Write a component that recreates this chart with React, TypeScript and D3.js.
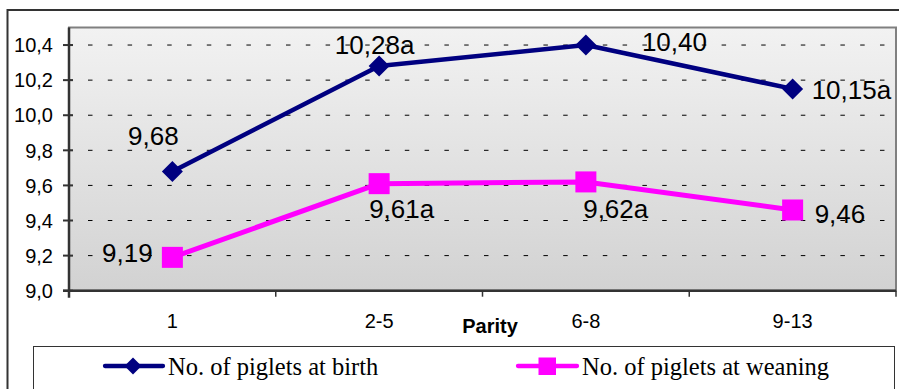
import React from "react";
import * as d3 from "d3";

const categories = ["1", "2-5", "6-8", "9-13"];
const birthValues = [9.68, 10.28, 10.4, 10.15];
const weaningValues = [9.19, 9.61, 9.62, 9.46];
const birthLabels = ["9,68", "10,28a", "10,40", "10,15a"];
const weaningLabels = ["9,19", "9,61a", "9,62a", "9,46"];
const yTicks = [9.0, 9.2, 9.4, 9.6, 9.8, 10.0, 10.2, 10.4];
const yTickLabels = ["9,0", "9,2", "9,4", "9,6", "9,8", "10,0", "10,2", "10,4"];
const seriesNames = ["No. of piglets at birth", "No. of piglets at weaning"];
const xTitle = "Parity";

// label placement (offsets from point, anchor)
const birthLabelPlace: [number, number, string][] = [
  [-19, -26.7, "middle"],
  [-4.5, -12, "middle"],
  [56, 5.7, "start"],
  [19, 10, "start"],
];
const weaningLabelPlace: [number, number, string][] = [
  [-19.7, 4.5, "end"],
  [-10, 34, "start"],
  [-2.7, 35.6, "start"],
  [22, 13.5, "start"],
];

const W = 899;
const H = 389;
const plot = { left: 69, right: 896, top: 27.5, bottom: 290.7 };
const SANS = "'Liberation Sans', Arial, sans-serif";
const SERIF = "'Liberation Serif', 'Times New Roman', serif";
const NAVY = "#000080";
const MAGENTA = "#ff00ff";

export default function App() {
  const x = d3
    .scaleBand<string>()
    .domain(categories)
    .range([plot.left, plot.right])
    .paddingInner(0)
    .paddingOuter(0);
  const y = d3.scaleLinear().domain([9.0, 10.5]).range([plot.bottom, plot.top]);
  const cx = (c: string) => (x(c) as number) + x.bandwidth() / 2;

  const line = d3
    .line<number>()
    .x((_, i) => cx(categories[i]))
    .y((v) => y(v));

  const diamond = (px: number, py: number, r: number) =>
    `M${px},${py - r}L${px + r},${py}L${px},${py + r}L${px - r},${py}Z`;

  const boundaries = categories.map((c) => x(c) as number).concat([plot.right]);

  return (
    <svg
      width={W}
      height={H}
      style={{ position: "absolute", left: 0, top: 0, background: "#fff" }}
    >
      <defs>
        <linearGradient id="bg" x1="0" y1="0" x2="0" y2="1">
          <stop offset="0" stopColor="#f2f2f2" />
          <stop offset="1" stopColor="#d2d2d2" />
        </linearGradient>
      </defs>
      {/* outer chart border */}
      <rect x={7.5} y={10} width={W + 20} height={H + 20} fill="#fff" stroke="#333" strokeWidth={2} />
      {/* plot background */}
      <rect
        x={plot.left}
        y={plot.top}
        width={plot.right - plot.left}
        height={plot.bottom - plot.top}
        fill="url(#bg)"
        stroke="#808080"
        strokeWidth={2}
      />
      {/* gridlines */}
      {yTicks.slice(1).map((t) => (
        <line
          key={"g" + t}
          x1={plot.left}
          x2={plot.right}
          y1={y(t)}
          y2={y(t)}
          stroke="#000"
          strokeWidth={1}
          strokeDasharray="4.5 15.3"
          strokeDashoffset={0.8}
        />
      ))}
      {/* axes */}
      <line x1={plot.left} x2={plot.left} y1={plot.top} y2={plot.bottom + 7} stroke="#333" strokeWidth={2.5} />
      <line x1={plot.left - 6} x2={plot.right} y1={plot.bottom} y2={plot.bottom} stroke="#333" strokeWidth={2.5} />
      {yTicks.map((t, i) => (
        <g key={"yt" + t}>
          <line x1={plot.left - 6} x2={plot.left + 4} y1={y(t)} y2={y(t)} stroke="#333" strokeWidth={2} />
          <text
            x={53}
            y={y(t)}
            dy="0.36em"
            textAnchor="end"
            fontFamily={SANS}
            fontSize={20}
            fill="#000"
          >
            {yTickLabels[i]}
          </text>
        </g>
      ))}
      {boundaries.map((b, i) => (
        <line key={"xt" + i} x1={b} x2={b} y1={plot.bottom} y2={plot.bottom + 6} stroke="#333" strokeWidth={1.5} />
      ))}
      {categories.map((c) => (
        <text key={"xl" + c} x={cx(c)} y={328} textAnchor="middle" fontFamily={SANS} fontSize={20} fill="#000">
          {c}
        </text>
      ))}
      <text x={490} y={333} textAnchor="middle" fontFamily={SANS} fontSize={20} fontWeight="bold" fill="#000">
        {xTitle}
      </text>

      {/* series */}
      <path d={line(birthValues) as string} fill="none" stroke={NAVY} strokeWidth={4.5} strokeLinejoin="round" />
      {birthValues.map((v, i) => (
        <path key={"bm" + i} d={diamond(cx(categories[i]), y(v), 10.5)} fill={NAVY} />
      ))}
      <path d={line(weaningValues) as string} fill="none" stroke={MAGENTA} strokeWidth={5} strokeLinejoin="round" />
      {weaningValues.map((v, i) => (
        <rect key={"wm" + i} x={cx(categories[i]) - 10.5} y={y(v) - 10.5} width={21} height={21} fill={MAGENTA} />
      ))}

      {/* data labels */}
      {birthValues.map((v, i) => (
        <text
          key={"bl" + i}
          x={cx(categories[i]) + birthLabelPlace[i][0]}
          y={y(v) + birthLabelPlace[i][1]}
          textAnchor={birthLabelPlace[i][2] as any}
          fontFamily={SANS}
          fontSize={26}
          fill="#000"
        >
          {birthLabels[i]}
        </text>
      ))}
      {weaningValues.map((v, i) => (
        <text
          key={"wl" + i}
          x={cx(categories[i]) + weaningLabelPlace[i][0]}
          y={y(v) + weaningLabelPlace[i][1]}
          textAnchor={weaningLabelPlace[i][2] as any}
          fontFamily={SANS}
          fontSize={26}
          fill="#000"
        >
          {weaningLabels[i]}
        </text>
      ))}

      {/* legend */}
      <rect x={33.5} y={346.5} width={861} height={60} fill="#fff" stroke="#333" strokeWidth={1} />
      <line x1={105} x2={163} y1={366} y2={366} stroke={NAVY} strokeWidth={4.3} strokeLinecap="round" />
      <path d={diamond(133, 366, 8.5)} fill={NAVY} />
      <text x={168} y={375} fontFamily={SERIF} fontSize={24.5} fill="#000">
        {seriesNames[0]}
      </text>
      <line x1={518} x2={577} y1={366} y2={366} stroke={MAGENTA} strokeWidth={4.3} strokeLinecap="round" />
      <rect x={538.5} y={357.5} width={17.5} height={17.5} fill={MAGENTA} />
      <text x={582} y={375} fontFamily={SERIF} fontSize={24.5} fill="#000">
        {seriesNames[1]}
      </text>
    </svg>
  );
}
